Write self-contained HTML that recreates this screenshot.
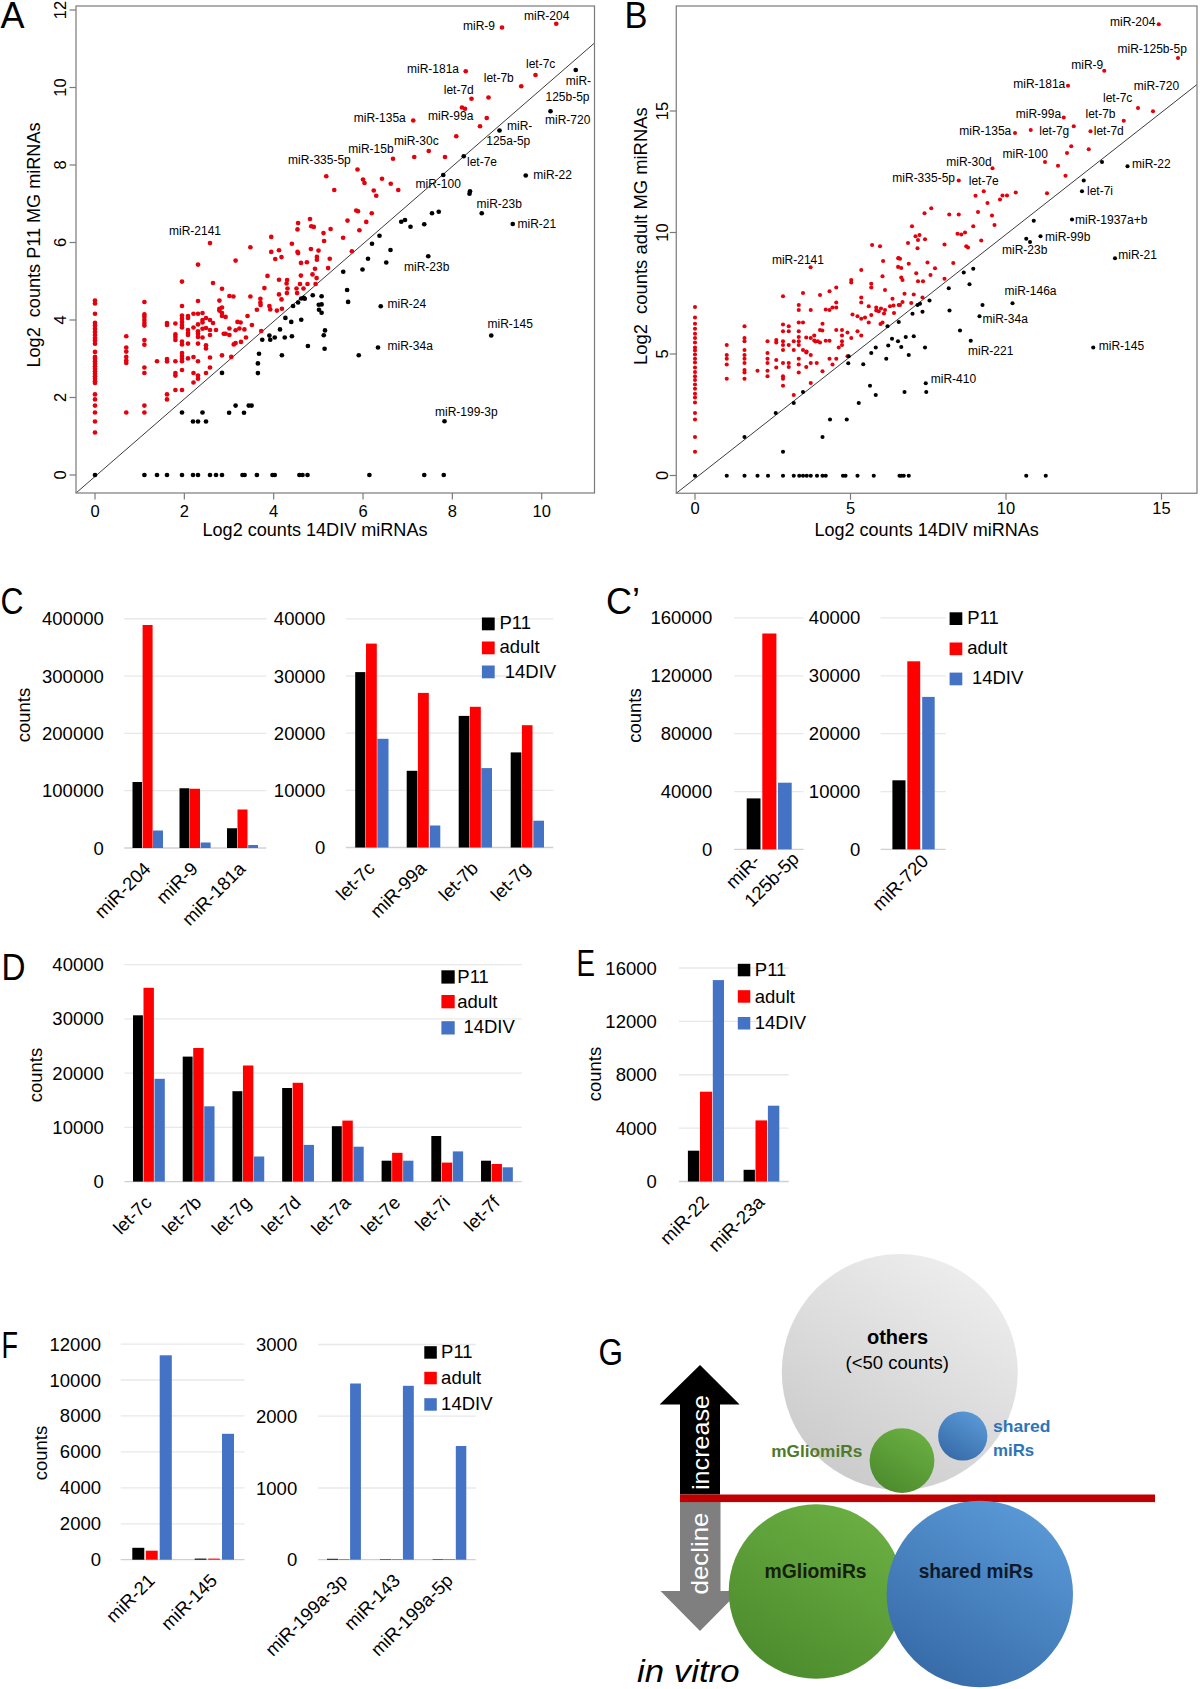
<!DOCTYPE html>
<html><head><meta charset="utf-8"><title>Figure</title>
<style>
html,body{margin:0;padding:0;background:#fff;}
body{width:1200px;height:1689px;overflow:hidden;}
svg{display:block;font-family:"Liberation Sans",sans-serif;}
</style></head><body>
<svg width="1200" height="1689" viewBox="0 0 1200 1689">
<rect width="1200" height="1689" fill="#fff"/>
<text x="0.5" y="28" font-size="36" text-anchor="start" >A</text>
<text x="624.5" y="28" font-size="36" text-anchor="start" textLength="23" lengthAdjust="spacingAndGlyphs">B</text>
<text x="0.5" y="614" font-size="36" text-anchor="start" textLength="23" lengthAdjust="spacingAndGlyphs">C</text>
<text x="606" y="614" font-size="36" text-anchor="start" >C’</text>
<text x="1.5" y="980" font-size="36" text-anchor="start" textLength="24" lengthAdjust="spacingAndGlyphs">D</text>
<text x="576.5" y="976" font-size="36" text-anchor="start" textLength="18.5" lengthAdjust="spacingAndGlyphs">E</text>
<text x="1.5" y="1357.5" font-size="36" text-anchor="start" textLength="16.5" lengthAdjust="spacingAndGlyphs">F</text>
<text x="598.5" y="1365" font-size="36" text-anchor="start" textLength="24.5" lengthAdjust="spacingAndGlyphs">G</text>
<line x1="76" y1="493" x2="594.5" y2="43" stroke="#3c3c3c" stroke-width="1"/>
<g fill="#e4000c">
<circle cx="95" cy="300.6" r="2.35"/>
<circle cx="95" cy="303.5" r="2.35"/>
<circle cx="95" cy="313.75" r="2.35"/>
<circle cx="95" cy="322.75" r="2.35"/>
<circle cx="95" cy="325.6" r="2.35"/>
<circle cx="95" cy="328.75" r="2.35"/>
<circle cx="95" cy="331.9" r="2.35"/>
<circle cx="95" cy="335" r="2.35"/>
<circle cx="95" cy="338" r="2.35"/>
<circle cx="95" cy="340.6" r="2.35"/>
<circle cx="95" cy="343.75" r="2.35"/>
<circle cx="95" cy="351.9" r="2.35"/>
<circle cx="95" cy="356.9" r="2.35"/>
<circle cx="95" cy="358.75" r="2.35"/>
<circle cx="95" cy="361.25" r="2.35"/>
<circle cx="95" cy="363.75" r="2.35"/>
<circle cx="95" cy="366.25" r="2.35"/>
<circle cx="95" cy="368.75" r="2.35"/>
<circle cx="95" cy="371.25" r="2.35"/>
<circle cx="95" cy="373.75" r="2.35"/>
<circle cx="95" cy="376.25" r="2.35"/>
<circle cx="95" cy="378.75" r="2.35"/>
<circle cx="95" cy="381.25" r="2.35"/>
<circle cx="95" cy="383" r="2.35"/>
<circle cx="95" cy="394.4" r="2.35"/>
<circle cx="95" cy="399.4" r="2.35"/>
<circle cx="95" cy="405.6" r="2.35"/>
<circle cx="95" cy="412.5" r="2.35"/>
<circle cx="95" cy="421.5" r="2.35"/>
<circle cx="95" cy="432.5" r="2.35"/>
<circle cx="126.25" cy="336.25" r="2.35"/>
<circle cx="126.25" cy="347.5" r="2.35"/>
<circle cx="126.25" cy="351.6" r="2.35"/>
<circle cx="126.25" cy="356.9" r="2.35"/>
<circle cx="126.25" cy="360.6" r="2.35"/>
<circle cx="126.25" cy="363" r="2.35"/>
<circle cx="126.25" cy="412.5" r="2.35"/>
<circle cx="144.4" cy="302" r="2.35"/>
<circle cx="144.4" cy="314.4" r="2.35"/>
<circle cx="144.4" cy="316.9" r="2.35"/>
<circle cx="144.4" cy="320" r="2.35"/>
<circle cx="144.4" cy="323" r="2.35"/>
<circle cx="144.4" cy="325.6" r="2.35"/>
<circle cx="144.4" cy="340" r="2.35"/>
<circle cx="144.4" cy="344.7" r="2.35"/>
<circle cx="144.4" cy="367.5" r="2.35"/>
<circle cx="144.4" cy="373" r="2.35"/>
<circle cx="144.4" cy="405.6" r="2.35"/>
<circle cx="144.4" cy="412.5" r="2.35"/>
<circle cx="157" cy="361.25" r="2.35"/>
<circle cx="167" cy="323" r="2.35"/>
<circle cx="167" cy="325" r="2.35"/>
<circle cx="167" cy="359" r="2.35"/>
<circle cx="167" cy="361.5" r="2.35"/>
<circle cx="167" cy="394.4" r="2.35"/>
<circle cx="167" cy="399.4" r="2.35"/>
<circle cx="175.4" cy="323.5" r="2.35"/>
<circle cx="175.4" cy="334.4" r="2.35"/>
<circle cx="175.4" cy="337" r="2.35"/>
<circle cx="175.4" cy="340" r="2.35"/>
<circle cx="175.4" cy="361.25" r="2.35"/>
<circle cx="175.4" cy="373" r="2.35"/>
<circle cx="175.4" cy="375.6" r="2.35"/>
<circle cx="175.4" cy="390" r="2.35"/>
<circle cx="182" cy="281.6" r="2.35"/>
<circle cx="182" cy="306" r="2.35"/>
<circle cx="182" cy="315.6" r="2.35"/>
<circle cx="182" cy="318.75" r="2.35"/>
<circle cx="182" cy="321.9" r="2.35"/>
<circle cx="182" cy="325" r="2.35"/>
<circle cx="182" cy="327.5" r="2.35"/>
<circle cx="182" cy="341.5" r="2.35"/>
<circle cx="182" cy="344.5" r="2.35"/>
<circle cx="182" cy="353" r="2.35"/>
<circle cx="182" cy="356" r="2.35"/>
<circle cx="182" cy="358.75" r="2.35"/>
<circle cx="182" cy="361.25" r="2.35"/>
<circle cx="182" cy="370" r="2.35"/>
<circle cx="182" cy="390" r="2.35"/>
<circle cx="188" cy="316" r="2.35"/>
<circle cx="188" cy="318" r="2.35"/>
<circle cx="188" cy="330" r="2.35"/>
<circle cx="188" cy="333" r="2.35"/>
<circle cx="188" cy="335" r="2.35"/>
<circle cx="188" cy="343.6" r="2.35"/>
<circle cx="188" cy="358.4" r="2.35"/>
<circle cx="193.5" cy="313.75" r="2.35"/>
<circle cx="193.5" cy="327.5" r="2.35"/>
<circle cx="193.5" cy="357" r="2.35"/>
<circle cx="193.5" cy="373" r="2.35"/>
<circle cx="193.5" cy="382.5" r="2.35"/>
<circle cx="198" cy="264.6" r="2.35"/>
<circle cx="198" cy="301" r="2.35"/>
<circle cx="198" cy="313.75" r="2.35"/>
<circle cx="198" cy="324.4" r="2.35"/>
<circle cx="198" cy="331.25" r="2.35"/>
<circle cx="198" cy="333.75" r="2.35"/>
<circle cx="198" cy="336.9" r="2.35"/>
<circle cx="198" cy="343.6" r="2.35"/>
<circle cx="198" cy="361.25" r="2.35"/>
<circle cx="198" cy="375.6" r="2.35"/>
<circle cx="198" cy="378.75" r="2.35"/>
<circle cx="202.5" cy="313" r="2.35"/>
<circle cx="202.5" cy="320" r="2.35"/>
<circle cx="202.5" cy="322.5" r="2.35"/>
<circle cx="202.5" cy="328.75" r="2.35"/>
<circle cx="202.5" cy="337.5" r="2.35"/>
<circle cx="206" cy="318" r="2.35"/>
<circle cx="206" cy="328" r="2.35"/>
<circle cx="206" cy="345.3" r="2.35"/>
<circle cx="206" cy="348.5" r="2.35"/>
<circle cx="206" cy="373" r="2.35"/>
<circle cx="210" cy="243.1" r="2.35"/>
<circle cx="210" cy="320" r="2.35"/>
<circle cx="210" cy="330" r="2.35"/>
<circle cx="210" cy="335" r="2.35"/>
<circle cx="210" cy="357.5" r="2.35"/>
<circle cx="210" cy="367.5" r="2.35"/>
<circle cx="213" cy="283" r="2.35"/>
<circle cx="213" cy="323" r="2.35"/>
<circle cx="216" cy="330" r="2.35"/>
<circle cx="219.4" cy="300.6" r="2.35"/>
<circle cx="219.4" cy="308.75" r="2.35"/>
<circle cx="219.4" cy="310.6" r="2.35"/>
<circle cx="222" cy="288.75" r="2.35"/>
<circle cx="222" cy="307.5" r="2.35"/>
<circle cx="222" cy="313" r="2.35"/>
<circle cx="222" cy="316" r="2.35"/>
<circle cx="222" cy="355.3" r="2.35"/>
<circle cx="223.75" cy="333.75" r="2.35"/>
<circle cx="298.1" cy="223.1" r="2.35"/>
<circle cx="297.5" cy="229.4" r="2.35"/>
<circle cx="311.25" cy="226.25" r="2.35"/>
<circle cx="313.75" cy="226.9" r="2.35"/>
<circle cx="347.5" cy="220.6" r="2.35"/>
<circle cx="366.25" cy="221.9" r="2.35"/>
<circle cx="330.6" cy="229" r="2.35"/>
<circle cx="359.4" cy="230.25" r="2.35"/>
<circle cx="323.5" cy="233.1" r="2.35"/>
<circle cx="324.1" cy="241" r="2.35"/>
<circle cx="343.1" cy="237.75" r="2.35"/>
<circle cx="271.25" cy="236.9" r="2.35"/>
<circle cx="291.9" cy="243.75" r="2.35"/>
<circle cx="250.4" cy="247.25" r="2.35"/>
<circle cx="235.6" cy="260.6" r="2.35"/>
<circle cx="271.25" cy="251.9" r="2.35"/>
<circle cx="279" cy="250.25" r="2.35"/>
<circle cx="275.25" cy="259" r="2.35"/>
<circle cx="281.5" cy="257.1" r="2.35"/>
<circle cx="297.5" cy="251.9" r="2.35"/>
<circle cx="298.1" cy="253.1" r="2.35"/>
<circle cx="310.9" cy="249" r="2.35"/>
<circle cx="318.5" cy="250.6" r="2.35"/>
<circle cx="316.9" cy="256.9" r="2.35"/>
<circle cx="316.9" cy="259.75" r="2.35"/>
<circle cx="329.75" cy="258.75" r="2.35"/>
<circle cx="351.9" cy="251.25" r="2.35"/>
<circle cx="301" cy="262.9" r="2.35"/>
<circle cx="306.9" cy="262.25" r="2.35"/>
<circle cx="315" cy="268.75" r="2.35"/>
<circle cx="328.1" cy="268.1" r="2.35"/>
<circle cx="267.5" cy="275.9" r="2.35"/>
<circle cx="300.9" cy="275.6" r="2.35"/>
<circle cx="312.5" cy="274.4" r="2.35"/>
<circle cx="316.6" cy="278.1" r="2.35"/>
<circle cx="279" cy="279.75" r="2.35"/>
<circle cx="287.1" cy="280" r="2.35"/>
<circle cx="286.6" cy="283.5" r="2.35"/>
<circle cx="300" cy="284" r="2.35"/>
<circle cx="307.5" cy="284" r="2.35"/>
<circle cx="315.6" cy="284" r="2.35"/>
<circle cx="264.4" cy="288.1" r="2.35"/>
<circle cx="287.5" cy="288.5" r="2.35"/>
<circle cx="286.9" cy="293.1" r="2.35"/>
<circle cx="296.5" cy="288.5" r="2.35"/>
<circle cx="297.1" cy="293.1" r="2.35"/>
<circle cx="303.5" cy="288.5" r="2.35"/>
<circle cx="229.4" cy="296" r="2.35"/>
<circle cx="233.4" cy="296.5" r="2.35"/>
<circle cx="250.4" cy="296.5" r="2.35"/>
<circle cx="279" cy="294.4" r="2.35"/>
<circle cx="281.5" cy="299.4" r="2.35"/>
<circle cx="260.4" cy="298.75" r="2.35"/>
<circle cx="260.4" cy="302.5" r="2.35"/>
<circle cx="260.6" cy="305" r="2.35"/>
<circle cx="256.9" cy="309.75" r="2.35"/>
<circle cx="269.4" cy="306" r="2.35"/>
<circle cx="270.25" cy="309.4" r="2.35"/>
<circle cx="276.9" cy="310.6" r="2.35"/>
<circle cx="281.9" cy="308.75" r="2.35"/>
<circle cx="225.6" cy="316.9" r="2.35"/>
<circle cx="247.5" cy="316" r="2.35"/>
<circle cx="251.9" cy="325" r="2.35"/>
<circle cx="237.5" cy="321.9" r="2.35"/>
<circle cx="240.6" cy="322.5" r="2.35"/>
<circle cx="229.4" cy="328.5" r="2.35"/>
<circle cx="235.6" cy="330.25" r="2.35"/>
<circle cx="239.4" cy="328.5" r="2.35"/>
<circle cx="244.4" cy="329.4" r="2.35"/>
<circle cx="225.6" cy="333.75" r="2.35"/>
<circle cx="229.4" cy="335" r="2.35"/>
<circle cx="246" cy="337.5" r="2.35"/>
<circle cx="261.25" cy="331" r="2.35"/>
<circle cx="233.75" cy="344.4" r="2.35"/>
<circle cx="235.6" cy="343.1" r="2.35"/>
<circle cx="241" cy="341.9" r="2.35"/>
<circle cx="231.25" cy="356.9" r="2.35"/>
<circle cx="310" cy="219" r="2.35"/>
<circle cx="502" cy="27.5" r="2.35"/>
<circle cx="556.25" cy="23.75" r="2.35"/>
<circle cx="465.75" cy="71.25" r="2.35"/>
<circle cx="535.5" cy="75" r="2.35"/>
<circle cx="521.25" cy="86.25" r="2.35"/>
<circle cx="471.5" cy="98.75" r="2.35"/>
<circle cx="488.5" cy="97.5" r="2.35"/>
<circle cx="462" cy="107.5" r="2.35"/>
<circle cx="465" cy="108.75" r="2.35"/>
<circle cx="413.25" cy="120.5" r="2.35"/>
<circle cx="486.75" cy="118" r="2.35"/>
<circle cx="480" cy="126.25" r="2.35"/>
<circle cx="456.25" cy="136.25" r="2.35"/>
<circle cx="428.75" cy="151" r="2.35"/>
<circle cx="414.25" cy="157" r="2.35"/>
<circle cx="393" cy="158.75" r="2.35"/>
<circle cx="445" cy="157" r="2.35"/>
<circle cx="326.25" cy="176.25" r="2.35"/>
<circle cx="334.25" cy="190" r="2.35"/>
<circle cx="357.5" cy="169.5" r="2.35"/>
<circle cx="363" cy="179.5" r="2.35"/>
<circle cx="364.5" cy="183" r="2.35"/>
<circle cx="382" cy="178.75" r="2.35"/>
<circle cx="390.75" cy="183.75" r="2.35"/>
<circle cx="398.25" cy="190" r="2.35"/>
<circle cx="373.75" cy="190.5" r="2.35"/>
<circle cx="376.25" cy="195.75" r="2.35"/>
<circle cx="356.25" cy="210.5" r="2.35"/>
<circle cx="358" cy="211.25" r="2.35"/>
<circle cx="371.75" cy="213.25" r="2.35"/>
</g><g fill="#000">
<circle cx="575.75" cy="70" r="2.35"/>
<circle cx="550.5" cy="111.25" r="2.35"/>
<circle cx="499.5" cy="130.5" r="2.35"/>
<circle cx="463.75" cy="156.25" r="2.35"/>
<circle cx="443.25" cy="175" r="2.35"/>
<circle cx="525.75" cy="175.5" r="2.35"/>
<circle cx="470" cy="191.25" r="2.35"/>
<circle cx="469.5" cy="193.75" r="2.35"/>
<circle cx="481.75" cy="213.25" r="2.35"/>
<circle cx="512.75" cy="224" r="2.35"/>
<circle cx="432" cy="213.25" r="2.35"/>
<circle cx="438.75" cy="211.75" r="2.35"/>
<circle cx="401.25" cy="221.75" r="2.35"/>
<circle cx="405" cy="220" r="2.35"/>
<circle cx="410.5" cy="226.75" r="2.35"/>
<circle cx="424.25" cy="224.25" r="2.35"/>
<circle cx="379.5" cy="235.75" r="2.35"/>
<circle cx="372" cy="243.75" r="2.35"/>
<circle cx="390.5" cy="250" r="2.35"/>
<circle cx="368" cy="258.75" r="2.35"/>
<circle cx="386.25" cy="262.5" r="2.35"/>
<circle cx="428.25" cy="256.25" r="2.35"/>
<circle cx="362.5" cy="269.5" r="2.35"/>
<circle cx="343.25" cy="271.75" r="2.35"/>
<circle cx="347.1" cy="290" r="2.35"/>
<circle cx="348.1" cy="301.9" r="2.35"/>
<circle cx="312.75" cy="295.25" r="2.35"/>
<circle cx="321.6" cy="296.25" r="2.35"/>
<circle cx="301.25" cy="298.5" r="2.35"/>
<circle cx="303.75" cy="297.75" r="2.35"/>
<circle cx="304.75" cy="298.75" r="2.35"/>
<circle cx="298.1" cy="302.5" r="2.35"/>
<circle cx="293.1" cy="306" r="2.35"/>
<circle cx="318.75" cy="304.75" r="2.35"/>
<circle cx="321.6" cy="304.4" r="2.35"/>
<circle cx="319" cy="309.75" r="2.35"/>
<circle cx="321.6" cy="312.75" r="2.35"/>
<circle cx="285.4" cy="317.9" r="2.35"/>
<circle cx="291.25" cy="321.9" r="2.35"/>
<circle cx="301.25" cy="319.75" r="2.35"/>
<circle cx="280" cy="329.4" r="2.35"/>
<circle cx="325" cy="330.4" r="2.35"/>
<circle cx="323.75" cy="335.25" r="2.35"/>
<circle cx="269.4" cy="335.6" r="2.35"/>
<circle cx="270.25" cy="339.75" r="2.35"/>
<circle cx="274.75" cy="337.5" r="2.35"/>
<circle cx="284.75" cy="337.5" r="2.35"/>
<circle cx="291.9" cy="336.25" r="2.35"/>
<circle cx="262.25" cy="339.75" r="2.35"/>
<circle cx="307.9" cy="346" r="2.35"/>
<circle cx="324.6" cy="348.75" r="2.35"/>
<circle cx="259" cy="353.75" r="2.35"/>
<circle cx="281.9" cy="355.25" r="2.35"/>
<circle cx="358.75" cy="355.25" r="2.35"/>
<circle cx="378" cy="347.5" r="2.35"/>
<circle cx="380.75" cy="306.25" r="2.35"/>
<circle cx="491.25" cy="335.5" r="2.35"/>
<circle cx="444.5" cy="421.25" r="2.35"/>
<circle cx="257.9" cy="363.4" r="2.35"/>
<circle cx="257.9" cy="373.1" r="2.35"/>
<circle cx="235.6" cy="405.6" r="2.35"/>
<circle cx="248.75" cy="405.6" r="2.35"/>
<circle cx="251.6" cy="405.6" r="2.35"/>
<circle cx="229.1" cy="412.75" r="2.35"/>
<circle cx="244" cy="412.75" r="2.35"/>
<circle cx="222" cy="372.9" r="2.35"/>
<circle cx="182" cy="412.5" r="2.35"/>
<circle cx="202.5" cy="412.5" r="2.35"/>
<circle cx="193" cy="421.5" r="2.35"/>
<circle cx="198" cy="421.5" r="2.35"/>
<circle cx="206" cy="421.5" r="2.35"/>
<circle cx="95" cy="475" r="2.35"/>
<circle cx="144.4" cy="475" r="2.35"/>
<circle cx="157" cy="475" r="2.35"/>
<circle cx="167" cy="475" r="2.35"/>
<circle cx="182" cy="475" r="2.35"/>
<circle cx="193" cy="475" r="2.35"/>
<circle cx="198" cy="475" r="2.35"/>
<circle cx="210" cy="475" r="2.35"/>
<circle cx="216" cy="475" r="2.35"/>
<circle cx="222" cy="475" r="2.35"/>
<circle cx="242.5" cy="475" r="2.35"/>
<circle cx="244.6" cy="475" r="2.35"/>
<circle cx="256.9" cy="475" r="2.35"/>
<circle cx="272.5" cy="475" r="2.35"/>
<circle cx="274.75" cy="475" r="2.35"/>
<circle cx="299.4" cy="475" r="2.35"/>
<circle cx="302.5" cy="475" r="2.35"/>
<circle cx="307.5" cy="475" r="2.35"/>
<circle cx="369.4" cy="475" r="2.35"/>
<circle cx="424.25" cy="475" r="2.35"/>
<circle cx="443.75" cy="475" r="2.35"/>
</g>
<rect x="76" y="6" width="518.5" height="487" fill="none" stroke="#7a7a7a" stroke-width="1.2"/>
<line x1="95" y1="493" x2="95" y2="499.5" stroke="#7a7a7a" stroke-width="1.2"/>
<text x="95" y="516.5" font-size="16.5" text-anchor="middle" >0</text>
<line x1="184.34" y1="493" x2="184.34" y2="499.5" stroke="#7a7a7a" stroke-width="1.2"/>
<text x="184.34" y="516.5" font-size="16.5" text-anchor="middle" >2</text>
<line x1="273.68" y1="493" x2="273.68" y2="499.5" stroke="#7a7a7a" stroke-width="1.2"/>
<text x="273.68" y="516.5" font-size="16.5" text-anchor="middle" >4</text>
<line x1="363.02" y1="493" x2="363.02" y2="499.5" stroke="#7a7a7a" stroke-width="1.2"/>
<text x="363.02" y="516.5" font-size="16.5" text-anchor="middle" >6</text>
<line x1="452.36" y1="493" x2="452.36" y2="499.5" stroke="#7a7a7a" stroke-width="1.2"/>
<text x="452.36" y="516.5" font-size="16.5" text-anchor="middle" >8</text>
<line x1="541.7" y1="493" x2="541.7" y2="499.5" stroke="#7a7a7a" stroke-width="1.2"/>
<text x="541.7" y="516.5" font-size="16.5" text-anchor="middle" >10</text>
<line x1="69.5" y1="475" x2="76" y2="475" stroke="#7a7a7a" stroke-width="1.2"/>
<text transform="translate(66,475) rotate(-90)" font-size="16.5" text-anchor="middle" >0</text>
<line x1="69.5" y1="397.5" x2="76" y2="397.5" stroke="#7a7a7a" stroke-width="1.2"/>
<text transform="translate(66,397.5) rotate(-90)" font-size="16.5" text-anchor="middle" >2</text>
<line x1="69.5" y1="320" x2="76" y2="320" stroke="#7a7a7a" stroke-width="1.2"/>
<text transform="translate(66,320) rotate(-90)" font-size="16.5" text-anchor="middle" >4</text>
<line x1="69.5" y1="242.5" x2="76" y2="242.5" stroke="#7a7a7a" stroke-width="1.2"/>
<text transform="translate(66,242.5) rotate(-90)" font-size="16.5" text-anchor="middle" >6</text>
<line x1="69.5" y1="165" x2="76" y2="165" stroke="#7a7a7a" stroke-width="1.2"/>
<text transform="translate(66,165) rotate(-90)" font-size="16.5" text-anchor="middle" >8</text>
<line x1="69.5" y1="87.5" x2="76" y2="87.5" stroke="#7a7a7a" stroke-width="1.2"/>
<text transform="translate(66,87.5) rotate(-90)" font-size="16.5" text-anchor="middle" >10</text>
<line x1="69.5" y1="10" x2="76" y2="10" stroke="#7a7a7a" stroke-width="1.2"/>
<text transform="translate(66,10) rotate(-90)" font-size="16.5" text-anchor="middle" >12</text>
<g font-size="12">
<text x="463" y="29.5">miR-9</text>
<text x="524" y="20">miR-204</text>
<text x="407" y="72.5">miR-181a</text>
<text x="526" y="68">let-7c</text>
<text x="483.75" y="82">let-7b</text>
<text x="443.75" y="93.75">let-7d</text>
<text x="565.75" y="84.5">miR-</text>
<text x="545.5" y="100.5">125b-5p</text>
<text x="353.75" y="122">miR-135a</text>
<text x="428" y="120">miR-99a</text>
<text x="545" y="124.25">miR-720</text>
<text x="507" y="129.5">miR-</text>
<text x="486.25" y="145">125a-5p</text>
<text x="394" y="145">miR-30c</text>
<text x="348.25" y="153">miR-15b</text>
<text x="288.1" y="163.75">miR-335-5p</text>
<text x="467" y="165.5">let-7e</text>
<text x="533.25" y="178.75">miR-22</text>
<text x="415.5" y="187.5">miR-100</text>
<text x="476.5" y="208">miR-23b</text>
<text x="517.5" y="228">miR-21</text>
<text x="404" y="271.25">miR-23b</text>
<text x="169" y="235.25">miR-2141</text>
<text x="387.5" y="308">miR-24</text>
<text x="487.5" y="328.25">miR-145</text>
<text x="387.5" y="350">miR-34a</text>
<text x="435" y="415.75">miR-199-3p</text>
</g>
<text transform="translate(40,245) rotate(-90)" font-size="18" text-anchor="middle" textLength="245" lengthAdjust="spacingAndGlyphs">Log2&#160;&#160;counts P11 MG miRNAs</text>
<text x="202.5" y="535.5" font-size="18" textLength="225" lengthAdjust="spacingAndGlyphs">Log2 counts 14DIV miRNAs</text>
<line x1="676.25" y1="493.25" x2="1197" y2="84.5" stroke="#3c3c3c" stroke-width="1"/>
<g fill="#e4000c">
<circle cx="695" cy="307" r="2.05"/>
<circle cx="695" cy="317.5" r="2.05"/>
<circle cx="695" cy="323.75" r="2.05"/>
<circle cx="695" cy="328.75" r="2.05"/>
<circle cx="695" cy="333.75" r="2.05"/>
<circle cx="695" cy="338" r="2.05"/>
<circle cx="695" cy="342.5" r="2.05"/>
<circle cx="695" cy="347.5" r="2.05"/>
<circle cx="695" cy="350.5" r="2.05"/>
<circle cx="695" cy="354.5" r="2.05"/>
<circle cx="695" cy="358.75" r="2.05"/>
<circle cx="695" cy="362.5" r="2.05"/>
<circle cx="695" cy="367.5" r="2.05"/>
<circle cx="695" cy="372" r="2.05"/>
<circle cx="695" cy="376.25" r="2.05"/>
<circle cx="695" cy="380" r="2.05"/>
<circle cx="695" cy="384.5" r="2.05"/>
<circle cx="695" cy="388.75" r="2.05"/>
<circle cx="695" cy="393.75" r="2.05"/>
<circle cx="695" cy="397.5" r="2.05"/>
<circle cx="695" cy="402.5" r="2.05"/>
<circle cx="695" cy="413" r="2.05"/>
<circle cx="695" cy="419.5" r="2.05"/>
<circle cx="695" cy="437" r="2.05"/>
<circle cx="695" cy="451.75" r="2.05"/>
<circle cx="726.75" cy="345" r="2.05"/>
<circle cx="726.75" cy="355" r="2.05"/>
<circle cx="726.75" cy="358.75" r="2.05"/>
<circle cx="726.75" cy="364.5" r="2.05"/>
<circle cx="726.75" cy="378.75" r="2.05"/>
<circle cx="744.5" cy="326.25" r="2.05"/>
<circle cx="744.5" cy="338" r="2.05"/>
<circle cx="744.5" cy="341.25" r="2.05"/>
<circle cx="744.5" cy="350" r="2.05"/>
<circle cx="744.5" cy="355" r="2.05"/>
<circle cx="744.5" cy="358.75" r="2.05"/>
<circle cx="744.5" cy="363" r="2.05"/>
<circle cx="744.5" cy="370" r="2.05"/>
<circle cx="744.5" cy="372.5" r="2.05"/>
<circle cx="744.5" cy="378.75" r="2.05"/>
<circle cx="757.5" cy="370.75" r="2.05"/>
<circle cx="767.5" cy="341.25" r="2.05"/>
<circle cx="767.5" cy="353" r="2.05"/>
<circle cx="767.5" cy="358.75" r="2.05"/>
<circle cx="767.5" cy="363" r="2.05"/>
<circle cx="767.5" cy="370.75" r="2.05"/>
<circle cx="767.5" cy="376.25" r="2.05"/>
<circle cx="776.25" cy="340" r="2.05"/>
<circle cx="776.25" cy="342.5" r="2.05"/>
<circle cx="776.25" cy="360" r="2.05"/>
<circle cx="776.25" cy="367.5" r="2.05"/>
<circle cx="783" cy="296.25" r="2.05"/>
<circle cx="783" cy="324.5" r="2.05"/>
<circle cx="783" cy="331.25" r="2.05"/>
<circle cx="783" cy="341.25" r="2.05"/>
<circle cx="783" cy="345" r="2.05"/>
<circle cx="783" cy="350" r="2.05"/>
<circle cx="783" cy="363" r="2.05"/>
<circle cx="783" cy="376.25" r="2.05"/>
<circle cx="783" cy="378.75" r="2.05"/>
<circle cx="783" cy="385.75" r="2.05"/>
<circle cx="788.75" cy="326.25" r="2.05"/>
<circle cx="788.75" cy="331.25" r="2.05"/>
<circle cx="788.75" cy="345" r="2.05"/>
<circle cx="788.75" cy="363" r="2.05"/>
<circle cx="788.75" cy="367" r="2.05"/>
<circle cx="793.75" cy="341.25" r="2.05"/>
<circle cx="793.75" cy="350" r="2.05"/>
<circle cx="793.75" cy="395" r="2.05"/>
<circle cx="798.75" cy="305" r="2.05"/>
<circle cx="798.75" cy="310" r="2.05"/>
<circle cx="798.75" cy="322.5" r="2.05"/>
<circle cx="798.75" cy="331.25" r="2.05"/>
<circle cx="798.75" cy="337" r="2.05"/>
<circle cx="798.75" cy="341.25" r="2.05"/>
<circle cx="798.75" cy="345" r="2.05"/>
<circle cx="798.75" cy="358.75" r="2.05"/>
<circle cx="798.75" cy="364.5" r="2.05"/>
<circle cx="798.75" cy="372.5" r="2.05"/>
<circle cx="803" cy="293" r="2.05"/>
<circle cx="803" cy="322.5" r="2.05"/>
<circle cx="803" cy="350" r="2.05"/>
<circle cx="806.25" cy="337.5" r="2.05"/>
<circle cx="806.25" cy="352.5" r="2.05"/>
<circle cx="806.25" cy="367" r="2.05"/>
<circle cx="810.75" cy="310" r="2.05"/>
<circle cx="810.75" cy="338" r="2.05"/>
<circle cx="810.75" cy="355" r="2.05"/>
<circle cx="810.75" cy="363" r="2.05"/>
<circle cx="810.75" cy="383" r="2.05"/>
<circle cx="814.25" cy="335.5" r="2.05"/>
<circle cx="814.25" cy="340.5" r="2.05"/>
<circle cx="816.75" cy="363" r="2.05"/>
<circle cx="820" cy="295" r="2.05"/>
<circle cx="820" cy="330" r="2.05"/>
<circle cx="820" cy="342.5" r="2.05"/>
<circle cx="822.5" cy="323.75" r="2.05"/>
<circle cx="822.5" cy="371.25" r="2.05"/>
<circle cx="825.75" cy="309.5" r="2.05"/>
<circle cx="825.75" cy="340.75" r="2.05"/>
<circle cx="829.5" cy="291.25" r="2.05"/>
<circle cx="829.5" cy="310" r="2.05"/>
<circle cx="829.5" cy="340.75" r="2.05"/>
<circle cx="829.5" cy="358.75" r="2.05"/>
<circle cx="832.5" cy="307.5" r="2.05"/>
<circle cx="832.5" cy="364.5" r="2.05"/>
<circle cx="836.25" cy="287.5" r="2.05"/>
<circle cx="836.25" cy="302.5" r="2.05"/>
<circle cx="836.25" cy="307.5" r="2.05"/>
<circle cx="836.25" cy="330" r="2.05"/>
<circle cx="836.25" cy="358.75" r="2.05"/>
<circle cx="838.75" cy="347.5" r="2.05"/>
<circle cx="842" cy="330" r="2.05"/>
<circle cx="842" cy="335.5" r="2.05"/>
<circle cx="842" cy="341.25" r="2.05"/>
<circle cx="842" cy="345" r="2.05"/>
<circle cx="847.5" cy="332.5" r="2.05"/>
<circle cx="847.5" cy="356.25" r="2.05"/>
<circle cx="851.25" cy="280" r="2.05"/>
<circle cx="851.25" cy="282.5" r="2.05"/>
<circle cx="851.25" cy="338" r="2.05"/>
<circle cx="852.5" cy="314.5" r="2.05"/>
<circle cx="857.5" cy="316.25" r="2.05"/>
<circle cx="857.5" cy="331.25" r="2.05"/>
<circle cx="861.25" cy="270" r="2.05"/>
<circle cx="861.25" cy="297.5" r="2.05"/>
<circle cx="861.25" cy="302.5" r="2.05"/>
<circle cx="861.25" cy="318.75" r="2.05"/>
<circle cx="861.25" cy="335.5" r="2.05"/>
<circle cx="865" cy="317.5" r="2.05"/>
<circle cx="868.75" cy="306.25" r="2.05"/>
<circle cx="868.75" cy="322.5" r="2.05"/>
<circle cx="871.25" cy="283.75" r="2.05"/>
<circle cx="871.25" cy="287.5" r="2.05"/>
<circle cx="871.25" cy="315" r="2.05"/>
<circle cx="876.25" cy="307.5" r="2.05"/>
<circle cx="876.25" cy="310.5" r="2.05"/>
<circle cx="878.75" cy="311.25" r="2.05"/>
<circle cx="882.5" cy="276.25" r="2.05"/>
<circle cx="882.5" cy="322.5" r="2.05"/>
<circle cx="885" cy="290" r="2.05"/>
<circle cx="885" cy="310" r="2.05"/>
<circle cx="890" cy="306.25" r="2.05"/>
<circle cx="892.5" cy="298.75" r="2.05"/>
<circle cx="898.75" cy="305" r="2.05"/>
<circle cx="810.6" cy="267.25" r="2.05"/>
<circle cx="880.5" cy="324" r="2.05"/>
<circle cx="884" cy="313.5" r="2.05"/>
<circle cx="881" cy="308.5" r="2.05"/>
<circle cx="893.5" cy="305.5" r="2.05"/>
<circle cx="894" cy="313" r="2.05"/>
<circle cx="898.3" cy="258.2" r="2.05"/>
<circle cx="822.3" cy="330.5" r="2.05"/>
<circle cx="815.5" cy="341.5" r="2.05"/>
<circle cx="817.8" cy="341.2" r="2.05"/>
<circle cx="806.6" cy="351.5" r="2.05"/>
<circle cx="872.1" cy="245" r="2.05"/>
<circle cx="880" cy="246.25" r="2.05"/>
<circle cx="883.1" cy="261" r="2.05"/>
<circle cx="898.5" cy="258.1" r="2.05"/>
<circle cx="898.1" cy="266.9" r="2.05"/>
<circle cx="1158.75" cy="24.25" r="2.05"/>
<circle cx="1178" cy="58" r="2.05"/>
<circle cx="1104.25" cy="70.75" r="2.05"/>
<circle cx="1068" cy="85.75" r="2.05"/>
<circle cx="1138" cy="108" r="2.05"/>
<circle cx="1153" cy="111.25" r="2.05"/>
<circle cx="1063.75" cy="117.5" r="2.05"/>
<circle cx="1123.75" cy="120.75" r="2.05"/>
<circle cx="1073.75" cy="126.25" r="2.05"/>
<circle cx="1090.5" cy="131.25" r="2.05"/>
<circle cx="1030.75" cy="130" r="2.05"/>
<circle cx="1015" cy="133" r="2.05"/>
<circle cx="1071.25" cy="146.25" r="2.05"/>
<circle cx="1067" cy="153" r="2.05"/>
<circle cx="1088.75" cy="149.25" r="2.05"/>
<circle cx="1045" cy="162" r="2.05"/>
<circle cx="1058" cy="165.75" r="2.05"/>
<circle cx="992.5" cy="168.25" r="2.05"/>
<circle cx="1065.5" cy="175.75" r="2.05"/>
<circle cx="958.75" cy="180.5" r="2.05"/>
<circle cx="983.75" cy="191.25" r="2.05"/>
<circle cx="975.5" cy="195.75" r="2.05"/>
<circle cx="1002.5" cy="195.5" r="2.05"/>
<circle cx="1007" cy="195.5" r="2.05"/>
<circle cx="1015.75" cy="192.5" r="2.05"/>
<circle cx="1047" cy="193.25" r="2.05"/>
<circle cx="1000" cy="199.5" r="2.05"/>
<circle cx="987.5" cy="203" r="2.05"/>
<circle cx="931.25" cy="208.25" r="2.05"/>
<circle cx="924.5" cy="213.25" r="2.05"/>
<circle cx="949.25" cy="214.5" r="2.05"/>
<circle cx="958.75" cy="214.5" r="2.05"/>
<circle cx="978" cy="212" r="2.05"/>
<circle cx="992" cy="215.5" r="2.05"/>
<circle cx="994.5" cy="225" r="2.05"/>
<circle cx="973.25" cy="226.25" r="2.05"/>
<circle cx="912" cy="226.25" r="2.05"/>
<circle cx="957.5" cy="233.75" r="2.05"/>
<circle cx="961.25" cy="234.5" r="2.05"/>
<circle cx="965" cy="232.5" r="2.05"/>
<circle cx="915.5" cy="236.25" r="2.05"/>
<circle cx="919.5" cy="235" r="2.05"/>
<circle cx="918" cy="240" r="2.05"/>
<circle cx="925" cy="239.25" r="2.05"/>
<circle cx="908" cy="243" r="2.05"/>
<circle cx="944.5" cy="244.5" r="2.05"/>
<circle cx="966.25" cy="246.25" r="2.05"/>
<circle cx="968" cy="247.5" r="2.05"/>
<circle cx="981.25" cy="240.5" r="2.05"/>
<circle cx="917.5" cy="248.25" r="2.05"/>
<circle cx="908.75" cy="263.75" r="2.05"/>
<circle cx="927.5" cy="262.5" r="2.05"/>
<circle cx="953.25" cy="263" r="2.05"/>
<circle cx="900" cy="258.75" r="2.05"/>
<circle cx="901.25" cy="268" r="2.05"/>
<circle cx="935" cy="268.25" r="2.05"/>
<circle cx="916.25" cy="273.25" r="2.05"/>
<circle cx="930.5" cy="275" r="2.05"/>
<circle cx="944.5" cy="278.75" r="2.05"/>
<circle cx="918" cy="281.25" r="2.05"/>
<circle cx="923" cy="281.25" r="2.05"/>
<circle cx="901.25" cy="277.5" r="2.05"/>
<circle cx="902.5" cy="280" r="2.05"/>
<circle cx="904.5" cy="293.75" r="2.05"/>
<circle cx="913.75" cy="294.5" r="2.05"/>
<circle cx="922.5" cy="297.5" r="2.05"/>
<circle cx="902.5" cy="302" r="2.05"/>
<circle cx="911.25" cy="303" r="2.05"/>
<circle cx="900" cy="305" r="2.05"/>
</g><g fill="#000">
<circle cx="848.75" cy="356.25" r="2.05"/>
<circle cx="848.25" cy="363.25" r="2.05"/>
<circle cx="863.25" cy="364.25" r="2.05"/>
<circle cx="871.25" cy="353" r="2.05"/>
<circle cx="875.75" cy="347.5" r="2.05"/>
<circle cx="886.25" cy="358.75" r="2.05"/>
<circle cx="888.25" cy="345.5" r="2.05"/>
<circle cx="892" cy="338.75" r="2.05"/>
<circle cx="887.5" cy="326.25" r="2.05"/>
<circle cx="898.75" cy="322" r="2.05"/>
<circle cx="898" cy="341.25" r="2.05"/>
<circle cx="870" cy="385.75" r="2.05"/>
<circle cx="875.75" cy="395" r="2.05"/>
<circle cx="858.75" cy="403" r="2.05"/>
<circle cx="803" cy="392" r="2.05"/>
<circle cx="793.75" cy="403" r="2.05"/>
<circle cx="775.75" cy="413" r="2.05"/>
<circle cx="744.5" cy="437" r="2.05"/>
<circle cx="830" cy="419.5" r="2.05"/>
<circle cx="846.75" cy="419.5" r="2.05"/>
<circle cx="822.5" cy="437" r="2.05"/>
<circle cx="783" cy="451.75" r="2.05"/>
<circle cx="1102" cy="162" r="2.05"/>
<circle cx="1127.5" cy="166.25" r="2.05"/>
<circle cx="1083.75" cy="180.5" r="2.05"/>
<circle cx="1082" cy="191.25" r="2.05"/>
<circle cx="1033.75" cy="220.75" r="2.05"/>
<circle cx="1072" cy="219.5" r="2.05"/>
<circle cx="1040.5" cy="236.25" r="2.05"/>
<circle cx="1026.25" cy="238.75" r="2.05"/>
<circle cx="1030" cy="242" r="2.05"/>
<circle cx="1115" cy="258.25" r="2.05"/>
<circle cx="963.75" cy="272.5" r="2.05"/>
<circle cx="973.25" cy="268.75" r="2.05"/>
<circle cx="969.5" cy="284.25" r="2.05"/>
<circle cx="948.75" cy="288.25" r="2.05"/>
<circle cx="929.5" cy="300.5" r="2.05"/>
<circle cx="917.5" cy="305" r="2.05"/>
<circle cx="920" cy="303.75" r="2.05"/>
<circle cx="912.5" cy="313.75" r="2.05"/>
<circle cx="922.5" cy="311.75" r="2.05"/>
<circle cx="949.5" cy="310.5" r="2.05"/>
<circle cx="982.5" cy="305" r="2.05"/>
<circle cx="1012.5" cy="303.25" r="2.05"/>
<circle cx="979.5" cy="316.25" r="2.05"/>
<circle cx="960" cy="330.5" r="2.05"/>
<circle cx="905.75" cy="337" r="2.05"/>
<circle cx="913.75" cy="336.25" r="2.05"/>
<circle cx="970.75" cy="340.75" r="2.05"/>
<circle cx="901.25" cy="347" r="2.05"/>
<circle cx="925" cy="347.5" r="2.05"/>
<circle cx="908.75" cy="355" r="2.05"/>
<circle cx="1093.25" cy="347.5" r="2.05"/>
<circle cx="925.75" cy="383.25" r="2.05"/>
<circle cx="904.5" cy="392" r="2.05"/>
<circle cx="926.25" cy="392" r="2.05"/>
<circle cx="695" cy="475.75" r="2.05"/>
<circle cx="726.75" cy="475.75" r="2.05"/>
<circle cx="744.5" cy="475.75" r="2.05"/>
<circle cx="757.5" cy="475.75" r="2.05"/>
<circle cx="768" cy="475.75" r="2.05"/>
<circle cx="783" cy="475.75" r="2.05"/>
<circle cx="793.75" cy="475.75" r="2.05"/>
<circle cx="799.25" cy="475.75" r="2.05"/>
<circle cx="803" cy="475.75" r="2.05"/>
<circle cx="806.75" cy="475.75" r="2.05"/>
<circle cx="810.75" cy="475.75" r="2.05"/>
<circle cx="817" cy="475.75" r="2.05"/>
<circle cx="822.5" cy="475.75" r="2.05"/>
<circle cx="825.75" cy="475.75" r="2.05"/>
<circle cx="843" cy="475.75" r="2.05"/>
<circle cx="845.5" cy="475.75" r="2.05"/>
<circle cx="857.5" cy="475.75" r="2.05"/>
<circle cx="873.75" cy="475.75" r="2.05"/>
<circle cx="899.5" cy="475.75" r="2.05"/>
<circle cx="901.25" cy="475.75" r="2.05"/>
<circle cx="903.75" cy="475.75" r="2.05"/>
<circle cx="908.75" cy="475.75" r="2.05"/>
<circle cx="1026.25" cy="475.75" r="2.05"/>
<circle cx="1045.75" cy="475.75" r="2.05"/>
</g>
<rect x="676.25" y="6" width="520.75" height="487.25" fill="none" stroke="#7a7a7a" stroke-width="1.2"/>
<line x1="695" y1="493.25" x2="695" y2="499.75" stroke="#7a7a7a" stroke-width="1.2"/>
<text x="695" y="513.75" font-size="16.5" text-anchor="middle" >0</text>
<line x1="850.5" y1="493.25" x2="850.5" y2="499.75" stroke="#7a7a7a" stroke-width="1.2"/>
<text x="850.5" y="513.75" font-size="16.5" text-anchor="middle" >5</text>
<line x1="1006" y1="493.25" x2="1006" y2="499.75" stroke="#7a7a7a" stroke-width="1.2"/>
<text x="1006" y="513.75" font-size="16.5" text-anchor="middle" >10</text>
<line x1="1161.5" y1="493.25" x2="1161.5" y2="499.75" stroke="#7a7a7a" stroke-width="1.2"/>
<text x="1161.5" y="513.75" font-size="16.5" text-anchor="middle" >15</text>
<line x1="669.75" y1="475.5" x2="676.25" y2="475.5" stroke="#7a7a7a" stroke-width="1.2"/>
<text transform="translate(668.05,475.5) rotate(-90)" font-size="16.5" text-anchor="middle" >0</text>
<line x1="669.75" y1="354" x2="676.25" y2="354" stroke="#7a7a7a" stroke-width="1.2"/>
<text transform="translate(668.05,354) rotate(-90)" font-size="16.5" text-anchor="middle" >5</text>
<line x1="669.75" y1="232.5" x2="676.25" y2="232.5" stroke="#7a7a7a" stroke-width="1.2"/>
<text transform="translate(668.05,232.5) rotate(-90)" font-size="16.5" text-anchor="middle" >10</text>
<line x1="669.75" y1="111" x2="676.25" y2="111" stroke="#7a7a7a" stroke-width="1.2"/>
<text transform="translate(668.05,111) rotate(-90)" font-size="16.5" text-anchor="middle" >15</text>
<g font-size="12">
<text x="1110" y="25.75">miR-204</text>
<text x="1117.5" y="53">miR-125b-5p</text>
<text x="1071.25" y="68.75">miR-9</text>
<text x="1013.25" y="87.5">miR-181a</text>
<text x="1133.75" y="90">miR-720</text>
<text x="1103" y="102">let-7c</text>
<text x="1015.75" y="117.5">miR-99a</text>
<text x="1085.5" y="117.5">let-7b</text>
<text x="959.25" y="135">miR-135a</text>
<text x="1039.25" y="134.5">let-7g</text>
<text x="1093.75" y="134.5">let-7d</text>
<text x="1002.5" y="157.5">miR-100</text>
<text x="946.25" y="165.75">miR-30d</text>
<text x="892.3" y="181.5">miR-335-5p</text>
<text x="968.75" y="185">let-7e</text>
<text x="1132" y="167.5">miR-22</text>
<text x="1087" y="195">let-7i</text>
<text x="1075" y="223.75">miR-1937a+b</text>
<text x="1045" y="240.5">miR-99b</text>
<text x="1002" y="253.75">miR-23b</text>
<text x="1118.25" y="258.75">miR-21</text>
<text x="771.9" y="263.5">miR-2141</text>
<text x="1004.5" y="295">miR-146a</text>
<text x="982.5" y="323.25">miR-34a</text>
<text x="968" y="354.5">miR-221</text>
<text x="1098.75" y="349.5">miR-145</text>
<text x="930.75" y="382.5">miR-410</text>
</g>
<text transform="translate(646.5,236.2) rotate(-90)" font-size="18" text-anchor="middle" textLength="257.7" lengthAdjust="spacingAndGlyphs">Log2&#160;&#160;counts adult MG miRNAs</text>
<text x="814.5" y="535.5" font-size="18" textLength="224.25" lengthAdjust="spacingAndGlyphs">Log2 counts 14DIV miRNAs</text>
<line x1="124.25" y1="618.75" x2="266.25" y2="618.75" stroke="#e8e8e8" stroke-width="1.3"/>
<text x="103.75" y="625.25" font-size="18.5" text-anchor="end" >400000</text>
<line x1="124.25" y1="676.05" x2="266.25" y2="676.05" stroke="#e8e8e8" stroke-width="1.3"/>
<text x="103.75" y="682.55" font-size="18.5" text-anchor="end" >300000</text>
<line x1="124.25" y1="733.35" x2="266.25" y2="733.35" stroke="#e8e8e8" stroke-width="1.3"/>
<text x="103.75" y="739.85" font-size="18.5" text-anchor="end" >200000</text>
<line x1="124.25" y1="790.65" x2="266.25" y2="790.65" stroke="#e8e8e8" stroke-width="1.3"/>
<text x="103.75" y="797.15" font-size="18.5" text-anchor="end" >100000</text>
<line x1="124.25" y1="848" x2="266.25" y2="848" stroke="#d0d0d0" stroke-width="1.3"/>
<text x="103.75" y="854.5" font-size="18.5" text-anchor="end" >0</text>
<rect x="132.5" y="782" width="9.5" height="66" fill="#000"/>
<rect x="142.6" y="625" width="10" height="223" fill="#ff0000"/>
<rect x="153" y="830.5" width="10" height="17.5" fill="#4472c4"/>
<rect x="179.5" y="788.25" width="9.8" height="59.75" fill="#000"/>
<rect x="189.6" y="788.75" width="10.4" height="59.25" fill="#ff0000"/>
<rect x="200.6" y="842.5" width="10" height="5.5" fill="#4472c4"/>
<rect x="227" y="828.25" width="10" height="19.75" fill="#000"/>
<rect x="237.5" y="809.5" width="10" height="38.5" fill="#ff0000"/>
<rect x="248.2" y="845" width="9.8" height="3" fill="#4472c4"/>
<text transform="translate(151.75,870) rotate(-45)" font-size="18.5" text-anchor="end" >miR-204</text>
<text transform="translate(199,870) rotate(-45)" font-size="18.5" text-anchor="end" >miR-9</text>
<text transform="translate(246.5,870) rotate(-45)" font-size="18.5" text-anchor="end" >miR-181a</text>
<text transform="translate(30,715) rotate(-90)" font-size="18.5" text-anchor="middle" >counts</text>
<line x1="345.9" y1="618.8" x2="553.3" y2="618.8" stroke="#e8e8e8" stroke-width="1.3"/>
<text x="325.3" y="625.3" font-size="18.5" text-anchor="end" >40000</text>
<line x1="345.9" y1="676" x2="553.3" y2="676" stroke="#e8e8e8" stroke-width="1.3"/>
<text x="325.3" y="682.5" font-size="18.5" text-anchor="end" >30000</text>
<line x1="345.9" y1="733.2" x2="553.3" y2="733.2" stroke="#e8e8e8" stroke-width="1.3"/>
<text x="325.3" y="739.7" font-size="18.5" text-anchor="end" >20000</text>
<line x1="345.9" y1="790.4" x2="553.3" y2="790.4" stroke="#e8e8e8" stroke-width="1.3"/>
<text x="325.3" y="796.9" font-size="18.5" text-anchor="end" >10000</text>
<line x1="345.9" y1="847.5" x2="553.3" y2="847.5" stroke="#d0d0d0" stroke-width="1.3"/>
<text x="325.3" y="854" font-size="18.5" text-anchor="end" >0</text>
<rect x="355.2" y="672.1" width="10.2" height="175.4" fill="#000"/>
<rect x="366" y="643.6" width="10.8" height="203.9" fill="#ff0000"/>
<rect x="377.3" y="738.8" width="11.2" height="108.7" fill="#4472c4"/>
<rect x="406.7" y="770.8" width="10.7" height="76.7" fill="#000"/>
<rect x="417.9" y="692.9" width="10.9" height="154.6" fill="#ff0000"/>
<rect x="429.9" y="825.5" width="10.4" height="22" fill="#4472c4"/>
<rect x="458.7" y="715.9" width="10.7" height="131.6" fill="#000"/>
<rect x="469.9" y="706.8" width="10.9" height="140.7" fill="#ff0000"/>
<rect x="481.3" y="768.1" width="10.7" height="79.4" fill="#4472c4"/>
<rect x="510.7" y="752.4" width="10.7" height="95.1" fill="#000"/>
<rect x="521.9" y="725.2" width="10.6" height="122.3" fill="#ff0000"/>
<rect x="533.3" y="820.7" width="10.7" height="26.8" fill="#4472c4"/>
<text transform="translate(375.8,869.5) rotate(-45)" font-size="18.5" text-anchor="end" >let-7c</text>
<text transform="translate(427.5,869.5) rotate(-45)" font-size="18.5" text-anchor="end" >miR-99a</text>
<text transform="translate(479.3,869.5) rotate(-45)" font-size="18.5" text-anchor="end" >let-7b</text>
<text transform="translate(531.3,869.5) rotate(-45)" font-size="18.5" text-anchor="end" >let-7g</text>
<rect x="481.9" y="617.5" width="12.8" height="12.8" fill="#000"/>
<text x="499.5" y="629.2" font-size="18.5" text-anchor="start" >P11</text>
<rect x="481.9" y="641.5" width="12.8" height="12.8" fill="#ff0000"/>
<text x="499.5" y="653.2" font-size="18.5" text-anchor="start" >adult</text>
<rect x="481.9" y="665.5" width="12.8" height="12.8" fill="#4472c4"/>
<text x="504.8" y="678" font-size="18.5" text-anchor="start" >14DIV</text>
<line x1="734.1" y1="617.8" x2="803.5" y2="617.8" stroke="#e8e8e8" stroke-width="1.3"/>
<text x="712.2" y="624.3" font-size="18.5" text-anchor="end" >160000</text>
<line x1="734.1" y1="675.8" x2="803.5" y2="675.8" stroke="#e8e8e8" stroke-width="1.3"/>
<text x="712.2" y="682.3" font-size="18.5" text-anchor="end" >120000</text>
<line x1="734.1" y1="733.7" x2="803.5" y2="733.7" stroke="#e8e8e8" stroke-width="1.3"/>
<text x="712.2" y="740.2" font-size="18.5" text-anchor="end" >80000</text>
<line x1="734.1" y1="791.6" x2="803.5" y2="791.6" stroke="#e8e8e8" stroke-width="1.3"/>
<text x="712.2" y="798.1" font-size="18.5" text-anchor="end" >40000</text>
<line x1="734.1" y1="849.3" x2="803.5" y2="849.3" stroke="#d0d0d0" stroke-width="1.3"/>
<text x="712.2" y="855.8" font-size="18.5" text-anchor="end" >0</text>
<rect x="746.7" y="798.4" width="13.8" height="50.9" fill="#000"/>
<rect x="762.3" y="633.5" width="14.1" height="215.8" fill="#ff0000"/>
<rect x="778" y="782.7" width="13.7" height="66.6" fill="#4472c4"/>
<text transform="translate(747.4,876) rotate(-45)" font-size="18.5" text-anchor="middle" >miR-</text>
<text transform="translate(776,884) rotate(-45)" font-size="18.5" text-anchor="middle" >125b-5p</text>
<text transform="translate(641,715.5) rotate(-90)" font-size="18.5" text-anchor="middle" >counts</text>
<line x1="880.6" y1="617.8" x2="945.7" y2="617.8" stroke="#e8e8e8" stroke-width="1.3"/>
<text x="860.3" y="624.3" font-size="18.5" text-anchor="end" >40000</text>
<line x1="880.6" y1="675.8" x2="945.7" y2="675.8" stroke="#e8e8e8" stroke-width="1.3"/>
<text x="860.3" y="682.3" font-size="18.5" text-anchor="end" >30000</text>
<line x1="880.6" y1="733.7" x2="945.7" y2="733.7" stroke="#e8e8e8" stroke-width="1.3"/>
<text x="860.3" y="740.2" font-size="18.5" text-anchor="end" >20000</text>
<line x1="880.6" y1="791.6" x2="945.7" y2="791.6" stroke="#e8e8e8" stroke-width="1.3"/>
<text x="860.3" y="798.1" font-size="18.5" text-anchor="end" >10000</text>
<line x1="880.6" y1="849.3" x2="945.7" y2="849.3" stroke="#d0d0d0" stroke-width="1.3"/>
<text x="860.3" y="855.8" font-size="18.5" text-anchor="end" >0</text>
<rect x="892.4" y="780.3" width="13.1" height="69" fill="#000"/>
<rect x="907.3" y="661.3" width="12.9" height="188" fill="#ff0000"/>
<rect x="922.2" y="696.9" width="12.5" height="152.4" fill="#4472c4"/>
<text transform="translate(929.5,862.3) rotate(-45)" font-size="18.5" text-anchor="end" >miR-720</text>
<rect x="949.6" y="612.3" width="12.7" height="12.7" fill="#000"/>
<text x="967.2" y="623.7" font-size="18.5" text-anchor="start" >P11</text>
<rect x="949.6" y="642.5" width="12.7" height="12.7" fill="#ff0000"/>
<text x="967.2" y="654.2" font-size="18.5" text-anchor="start" >adult</text>
<rect x="949.6" y="672.6" width="12.7" height="12.7" fill="#4472c4"/>
<text x="971.9" y="684.4" font-size="18.5" text-anchor="start" >14DIV</text>
<line x1="124.4" y1="964.6" x2="521.7" y2="964.6" stroke="#e8e8e8" stroke-width="1.3"/>
<text x="103.8" y="971.1" font-size="18.5" text-anchor="end" >40000</text>
<line x1="124.4" y1="1018.85" x2="521.7" y2="1018.85" stroke="#e8e8e8" stroke-width="1.3"/>
<text x="103.8" y="1025.35" font-size="18.5" text-anchor="end" >30000</text>
<line x1="124.4" y1="1073.1" x2="521.7" y2="1073.1" stroke="#e8e8e8" stroke-width="1.3"/>
<text x="103.8" y="1079.6" font-size="18.5" text-anchor="end" >20000</text>
<line x1="124.4" y1="1127.35" x2="521.7" y2="1127.35" stroke="#e8e8e8" stroke-width="1.3"/>
<text x="103.8" y="1133.85" font-size="18.5" text-anchor="end" >10000</text>
<line x1="124.4" y1="1181.6" x2="521.7" y2="1181.6" stroke="#d0d0d0" stroke-width="1.3"/>
<text x="103.8" y="1188.1" font-size="18.5" text-anchor="end" >0</text>
<rect x="133" y="1015.3" width="9.9" height="166.3" fill="#000"/>
<rect x="143.5" y="987.8" width="10.4" height="193.8" fill="#ff0000"/>
<rect x="154.5" y="1078.8" width="10.3" height="102.8" fill="#4472c4"/>
<rect x="182.72" y="1056.6" width="9.9" height="125" fill="#000"/>
<rect x="193.22" y="1048" width="10.4" height="133.6" fill="#ff0000"/>
<rect x="204.22" y="1106.3" width="10.3" height="75.3" fill="#4472c4"/>
<rect x="232.44" y="1091.2" width="9.9" height="90.4" fill="#000"/>
<rect x="242.94" y="1065.5" width="10.4" height="116.1" fill="#ff0000"/>
<rect x="253.94" y="1156.5" width="10.3" height="25.1" fill="#4472c4"/>
<rect x="282.16" y="1088" width="9.9" height="93.6" fill="#000"/>
<rect x="292.66" y="1082.8" width="10.4" height="98.8" fill="#ff0000"/>
<rect x="303.66" y="1144.9" width="10.3" height="36.7" fill="#4472c4"/>
<rect x="331.88" y="1126.2" width="9.9" height="55.4" fill="#000"/>
<rect x="342.38" y="1120.6" width="10.4" height="61" fill="#ff0000"/>
<rect x="353.38" y="1146.7" width="10.3" height="34.9" fill="#4472c4"/>
<rect x="381.6" y="1160.7" width="9.9" height="20.9" fill="#000"/>
<rect x="392.1" y="1152.8" width="10.4" height="28.8" fill="#ff0000"/>
<rect x="403.1" y="1160.7" width="10.3" height="20.9" fill="#4472c4"/>
<rect x="431.32" y="1136" width="9.9" height="45.6" fill="#000"/>
<rect x="441.82" y="1162.6" width="10.4" height="19" fill="#ff0000"/>
<rect x="452.82" y="1151.4" width="10.3" height="30.2" fill="#4472c4"/>
<rect x="481.04" y="1160.7" width="9.9" height="20.9" fill="#000"/>
<rect x="491.54" y="1164" width="10.4" height="17.6" fill="#ff0000"/>
<rect x="502.54" y="1167.3" width="10.3" height="14.3" fill="#4472c4"/>
<text transform="translate(152.9,1203.6) rotate(-45)" font-size="18.5" text-anchor="end" >let-7c</text>
<text transform="translate(202.62,1203.6) rotate(-45)" font-size="18.5" text-anchor="end" >let-7b</text>
<text transform="translate(252.34,1203.6) rotate(-45)" font-size="18.5" text-anchor="end" >let-7g</text>
<text transform="translate(302.06,1203.6) rotate(-45)" font-size="18.5" text-anchor="end" >let-7d</text>
<text transform="translate(351.78,1203.6) rotate(-45)" font-size="18.5" text-anchor="end" >let-7a</text>
<text transform="translate(401.5,1203.6) rotate(-45)" font-size="18.5" text-anchor="end" >let-7e</text>
<text transform="translate(451.22,1203.6) rotate(-45)" font-size="18.5" text-anchor="end" >let-7i</text>
<text transform="translate(500.94,1203.6) rotate(-45)" font-size="18.5" text-anchor="end" >let-7f</text>
<rect x="441.4" y="970.3" width="13.3" height="13.3" fill="#000"/>
<text x="457.3" y="983" font-size="18.5" text-anchor="start" >P11</text>
<rect x="441.4" y="995" width="13.3" height="13.3" fill="#ff0000"/>
<text x="457.3" y="1007.7" font-size="18.5" text-anchor="start" >adult</text>
<rect x="441.4" y="1021.2" width="13.3" height="13.3" fill="#4472c4"/>
<text x="463.4" y="1033.3" font-size="18.5" text-anchor="start" >14DIV</text>
<text transform="translate(42,1075) rotate(-90)" font-size="18.5" text-anchor="middle" >counts</text>
<line x1="679" y1="968" x2="788.7" y2="968" stroke="#e8e8e8" stroke-width="1.3"/>
<text x="656.8" y="974.5" font-size="18.5" text-anchor="end" >16000</text>
<line x1="679" y1="1021.4" x2="788.7" y2="1021.4" stroke="#e8e8e8" stroke-width="1.3"/>
<text x="656.8" y="1027.9" font-size="18.5" text-anchor="end" >12000</text>
<line x1="679" y1="1074.75" x2="788.7" y2="1074.75" stroke="#e8e8e8" stroke-width="1.3"/>
<text x="656.8" y="1081.25" font-size="18.5" text-anchor="end" >8000</text>
<line x1="679" y1="1128.1" x2="788.7" y2="1128.1" stroke="#e8e8e8" stroke-width="1.3"/>
<text x="656.8" y="1134.6" font-size="18.5" text-anchor="end" >4000</text>
<line x1="679" y1="1181.5" x2="788.7" y2="1181.5" stroke="#d0d0d0" stroke-width="1.3"/>
<text x="656.8" y="1188" font-size="18.5" text-anchor="end" >0</text>
<rect x="687.9" y="1150.7" width="11.5" height="30.8" fill="#000"/>
<rect x="700" y="1091.7" width="12.2" height="89.8" fill="#ff0000"/>
<rect x="712.8" y="980.1" width="11.2" height="201.4" fill="#4472c4"/>
<rect x="743.6" y="1169.8" width="11.3" height="11.7" fill="#000"/>
<rect x="755.5" y="1120.4" width="11.5" height="61.1" fill="#ff0000"/>
<rect x="767.9" y="1105.7" width="11.4" height="75.8" fill="#4472c4"/>
<text transform="translate(710,1203.5) rotate(-45)" font-size="18.5" text-anchor="end" >miR-22</text>
<text transform="translate(765.5,1203.5) rotate(-45)" font-size="18.5" text-anchor="end" >miR-23a</text>
<rect x="737.8" y="963.8" width="12.5" height="12.5" fill="#000"/>
<text x="754.8" y="976.2" font-size="18.5" text-anchor="start" >P11</text>
<rect x="737.8" y="990.2" width="12.5" height="12.5" fill="#ff0000"/>
<text x="754.8" y="1002.5" font-size="18.5" text-anchor="start" >adult</text>
<rect x="737.8" y="1017" width="12.5" height="12.5" fill="#4472c4"/>
<text x="754.8" y="1029.4" font-size="18.5" text-anchor="start" >14DIV</text>
<text transform="translate(600.5,1074) rotate(-90)" font-size="18.5" text-anchor="middle" >counts</text>
<line x1="120.7" y1="1344.1" x2="244.5" y2="1344.1" stroke="#e8e8e8" stroke-width="1.3"/>
<text x="101" y="1350.6" font-size="18.5" text-anchor="end" >12000</text>
<line x1="120.7" y1="1380" x2="244.5" y2="1380" stroke="#e8e8e8" stroke-width="1.3"/>
<text x="101" y="1386.5" font-size="18.5" text-anchor="end" >10000</text>
<line x1="120.7" y1="1415.9" x2="244.5" y2="1415.9" stroke="#e8e8e8" stroke-width="1.3"/>
<text x="101" y="1422.4" font-size="18.5" text-anchor="end" >8000</text>
<line x1="120.7" y1="1451.9" x2="244.5" y2="1451.9" stroke="#e8e8e8" stroke-width="1.3"/>
<text x="101" y="1458.4" font-size="18.5" text-anchor="end" >6000</text>
<line x1="120.7" y1="1487.8" x2="244.5" y2="1487.8" stroke="#e8e8e8" stroke-width="1.3"/>
<text x="101" y="1494.3" font-size="18.5" text-anchor="end" >4000</text>
<line x1="120.7" y1="1523.8" x2="244.5" y2="1523.8" stroke="#e8e8e8" stroke-width="1.3"/>
<text x="101" y="1530.3" font-size="18.5" text-anchor="end" >2000</text>
<line x1="120.7" y1="1559.7" x2="244.5" y2="1559.7" stroke="#d0d0d0" stroke-width="1.3"/>
<text x="101" y="1566.2" font-size="18.5" text-anchor="end" >0</text>
<rect x="132.3" y="1547.8" width="12" height="11.9" fill="#000"/>
<rect x="145.8" y="1550.7" width="11.9" height="9" fill="#ff0000"/>
<rect x="159.7" y="1355.3" width="12.1" height="204.4" fill="#4472c4"/>
<rect x="194.7" y="1558.6" width="11.7" height="1.1" fill="#000"/>
<rect x="208.2" y="1558.6" width="11.6" height="1.1" fill="#ff0000"/>
<rect x="222" y="1433.8" width="12" height="125.9" fill="#4472c4"/>
<text transform="translate(156,1581.7) rotate(-45)" font-size="18.5" text-anchor="end" >miR-21</text>
<text transform="translate(218.3,1581.7) rotate(-45)" font-size="18.5" text-anchor="end" >miR-145</text>
<text transform="translate(47,1453) rotate(-90)" font-size="18.5" text-anchor="middle" >counts</text>
<line x1="318.2" y1="1344.5" x2="475.7" y2="1344.5" stroke="#e8e8e8" stroke-width="1.3"/>
<text x="297.2" y="1351" font-size="18.5" text-anchor="end" >3000</text>
<line x1="318.2" y1="1416.2" x2="475.7" y2="1416.2" stroke="#e8e8e8" stroke-width="1.3"/>
<text x="297.2" y="1422.7" font-size="18.5" text-anchor="end" >2000</text>
<line x1="318.2" y1="1488" x2="475.7" y2="1488" stroke="#e8e8e8" stroke-width="1.3"/>
<text x="297.2" y="1494.5" font-size="18.5" text-anchor="end" >1000</text>
<line x1="318.2" y1="1559.7" x2="475.7" y2="1559.7" stroke="#d0d0d0" stroke-width="1.3"/>
<text x="297.2" y="1566.2" font-size="18.5" text-anchor="end" >0</text>
<rect x="327" y="1558.8" width="11" height="0.9" fill="#000"/>
<rect x="338.5" y="1559.2" width="11" height="0.5" fill="#ff0000"/>
<rect x="350.1" y="1383.5" width="10.8" height="176.2" fill="#4472c4"/>
<rect x="380" y="1559.2" width="11" height="0.5" fill="#000"/>
<rect x="391.5" y="1559.2" width="10.9" height="0.5" fill="#ff0000"/>
<rect x="402.9" y="1385.8" width="10.9" height="173.9" fill="#4472c4"/>
<rect x="432.6" y="1559.2" width="11" height="0.5" fill="#000"/>
<rect x="444.1" y="1559.2" width="11.1" height="0.5" fill="#ff0000"/>
<rect x="455.8" y="1446" width="10.5" height="113.7" fill="#4472c4"/>
<text transform="translate(348.5,1581.7) rotate(-45)" font-size="18.5" text-anchor="end" >miR-199a-3p</text>
<text transform="translate(401.3,1581.7) rotate(-45)" font-size="18.5" text-anchor="end" >miR-143</text>
<text transform="translate(454,1581.7) rotate(-45)" font-size="18.5" text-anchor="end" >miR-199a-5p</text>
<rect x="424.3" y="1346.2" width="12.5" height="12.5" fill="#000"/>
<text x="441.1" y="1357.8" font-size="18.5" text-anchor="start" >P11</text>
<rect x="424.3" y="1371.8" width="12.5" height="12.5" fill="#ff0000"/>
<text x="441.1" y="1384.2" font-size="18.5" text-anchor="start" >adult</text>
<rect x="424.3" y="1398.2" width="12.5" height="12.5" fill="#4472c4"/>
<text x="441.1" y="1410.3" font-size="18.5" text-anchor="start" >14DIV</text>
<defs>
<linearGradient id="gGrey" x1="0.8" y1="0" x2="0.2" y2="1">
<stop offset="0" stop-color="#efefef"/><stop offset="1" stop-color="#c9c9c9"/></linearGradient>
<linearGradient id="gGreen" x1="0.8" y1="0" x2="0.2" y2="1">
<stop offset="0" stop-color="#6cb043"/><stop offset="1" stop-color="#4b8a2c"/></linearGradient>
<linearGradient id="gBlue" x1="0.8" y1="0" x2="0.2" y2="1">
<stop offset="0" stop-color="#5b9bd8"/><stop offset="1" stop-color="#3569a6"/></linearGradient>
</defs>
<circle cx="899.75" cy="1372" r="118" fill="url(#gGrey)"/>
<circle cx="902" cy="1460.6" r="32.4" fill="url(#gGreen)"/>
<circle cx="962.75" cy="1436" r="24.6" fill="url(#gBlue)"/>
<path d="M680,1494.5 L680,1404.4 L659.6,1404.4 L700,1365 L739.6,1404.4 L720,1404.4 L720,1494.5 Z" fill="#000"/>
<path d="M680,1502 L680,1591 L660.5,1591 L700,1631 L739.5,1591 L720.5,1591 L720.5,1502 Z" fill="#7f7f7f"/>
<rect x="680" y="1494.5" width="475" height="7.6" fill="#c00000"/>
<circle cx="816" cy="1591.5" r="87.3" fill="url(#gGreen)"/>
<circle cx="979.8" cy="1594" r="93.2" fill="url(#gBlue)"/>
<text transform="translate(708.5,1442.5) rotate(-90)" font-size="24.5" text-anchor="middle" fill="#fff" textLength="95" lengthAdjust="spacingAndGlyphs">increase</text>
<text transform="translate(708.3,1553.5) rotate(-90)" font-size="24.5" text-anchor="middle" fill="#fff" textLength="82" lengthAdjust="spacingAndGlyphs">decline</text>
<text x="897.5" y="1343.75" font-size="20" text-anchor="middle" font-weight="bold">others</text>
<text x="897.3" y="1368.75" font-size="18.5" text-anchor="middle" >(&lt;50 counts)</text>
<text x="771.25" y="1457" font-size="17" text-anchor="start" font-weight="bold" fill="#4f7a2a" textLength="91" lengthAdjust="spacingAndGlyphs">mGliomiRs</text>
<text x="993" y="1432" font-size="17" text-anchor="start" font-weight="bold" fill="#2e75b6" textLength="57.5" lengthAdjust="spacingAndGlyphs">shared</text>
<text x="993" y="1456.25" font-size="17" text-anchor="start" font-weight="bold" fill="#2e75b6" textLength="41.25" lengthAdjust="spacingAndGlyphs">miRs</text>
<text x="764.6" y="1578" font-size="20" text-anchor="start" font-weight="bold" fill="#15200e" textLength="102" lengthAdjust="spacingAndGlyphs">mGliomiRs</text>
<text x="918.75" y="1578" font-size="20" text-anchor="start" font-weight="bold" fill="#0e1a2b" textLength="114.5" lengthAdjust="spacingAndGlyphs">shared miRs</text>
<text x="637" y="1681.5" font-size="32" text-anchor="start" font-style="italic" textLength="102.5" lengthAdjust="spacingAndGlyphs">in vitro</text>
</svg>
</body></html>
